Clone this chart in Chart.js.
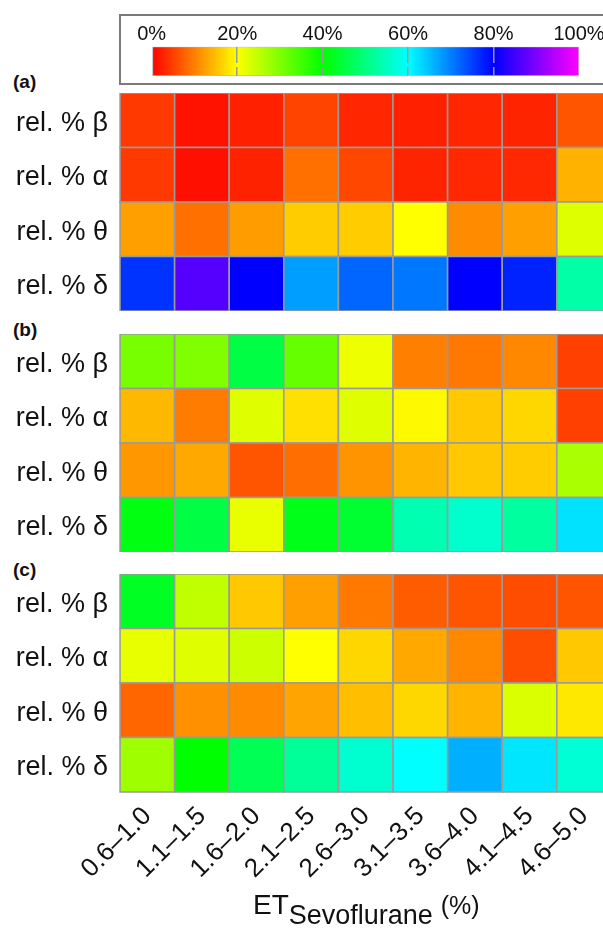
<!DOCTYPE html>
<html>
<head>
<meta charset="utf-8">
<script src="https://cdn.jsdelivr.net/npm/chart.js@4.4.0/dist/chart.umd.min.js"></script>
<style>
    html, body { margin: 0; padding: 0; background: #fff; overflow: hidden; width: 603px; height: 930px; }
    body { position: relative; font-family: "Liberation Sans", Arial, sans-serif; color: #111; }
    canvas { position: absolute; }
    #cbBox { position: absolute; left: 119px; top: 14px; width: 540px; height: 67px; border: 2px solid #7b7b7b; }
    .tag { position: absolute; left: 13px; font-weight: bold; font-size: 19px; line-height: 20px; }
    #xTitle { position: absolute; left: 253px; top: 889px; font-size: 28px; line-height: 32px; white-space: nowrap; }
    #xTitle .sub { position: relative; top: 10px; font-size: 27px; }
    #xTitle .pct { font-size: 25px; }
</style>
</head>
<body>
<div id="cbBox"></div>
<canvas id="colorbar" width="520" height="60" style="left:120px; top:20px;"></canvas>

<div class="tag" style="top:72px;">(a)</div>
<canvas id="panelA" width="700" height="218" style="left:0; top:93px;"></canvas>

<div class="tag" style="top:320px;">(b)</div>
<canvas id="panelB" width="700" height="218" style="left:0; top:334px;"></canvas>

<div class="tag" style="top:560px;">(c)</div>
<canvas id="panelC" width="700" height="328" style="left:0; top:574px;"></canvas>

<div id="xTitle">ET<span class="sub">Sevoflurane</span> <span class="pct">(%)</span></div>

<script>
    // categories
    const columns = ["0.6–1.0", "1.1–1.5", "1.6–2.0", "2.1–2.5", "2.6–3.0", "3.1–3.5", "3.6–4.0", "4.1–4.5", "4.6–5.0"];
    const rows = ["rel. % β", "rel. % α", "rel. % θ", "rel. % δ"];
    const cbTicks = [0, 20, 40, 60, 80, 100];
    const cbRange = [0, 100];

    // (a) values in %
    const aBeta  = [4.5, 1.5, 2.5, 5.3, 3.0, 2.5, 3.0, 2.8, 6.7];
    const aAlpha = [4.5, 1.2, 2.7, 8.8, 5.6, 2.8, 3.1, 3.1, 14.0];
    const aTheta = [12.5, 8.8, 12.2, 16.0, 16.0, 20.0, 11.0, 12.5, 22.7];
    const aDelta = [76.0, 86.7, 80.0, 67.5, 72.0, 70.7, 80.0, 77.3, 53.0];

    // (b)
    const bBeta  = [30.7, 30.0, 45.3, 32.0, 21.3, 10.0, 9.4, 10.7, 5.0];
    const bAlpha = [14.4, 9.7, 22.5, 17.6, 22.5, 19.5, 15.7, 16.9, 5.0];
    const bTheta = [11.9, 13.2, 6.7, 8.6, 11.6, 14.1, 15.7, 16.0, 26.7];
    const bDelta = [41.3, 45.3, 21.7, 42.0, 43.8, 53.8, 56.0, 52.5, 62.3];

    // (c)
    const cBeta  = [42.7, 25.0, 15.7, 12.5, 9.4, 7.2, 6.7, 6.0, 6.7];
    const cAlpha = [21.8, 22.5, 24.0, 20.0, 16.9, 13.2, 10.7, 6.0, 15.7];
    const cTheta = [8.0, 11.3, 11.0, 12.9, 15.0, 16.9, 14.1, 23.0, 18.2];
    const cDelta = [27.5, 40.0, 46.7, 52.0, 56.3, 60.0, 66.2, 62.0, 56.7];

    const FONT = '"Liberation Sans", Arial, sans-serif';

    // 0% red -> 20% yellow -> 40% green -> 60% cyan -> 80% blue -> 100% magenta
    function valueToColor(v) {
        return `hsl(${(v / 100) * 300}, 100%, 50%)`;
    }

    function cellSize(chart) {
        const a = chart.chartArea;
        if (!a) return 0;
        return Math.min(a.width / columns.length, a.height / rows.length);
    }

    // colorbar
    new Chart(document.getElementById("colorbar"), {
        type: "bar",
        data: {
            labels: [""],
            datasets: [{
                data: [cbRange],
                backgroundColor: c => {
                    const a = c.chart.chartArea;
                    if (!a) return "#f00";
                    const g = c.chart.ctx.createLinearGradient(a.left, 0, a.right, 0);
                    cbTicks.forEach(t => g.addColorStop((t - cbRange[0]) / (cbRange[1] - cbRange[0]), valueToColor(t)));
                    return g;
                },
                borderColor: "#bdbdbd",
                borderWidth: 1,
                borderSkipped: false,
                barPercentage: 1,
                categoryPercentage: 1
            }]
        },
        options: {
            indexAxis: "y",
            responsive: false,
            animation: false,
            events: [],
            layout: { padding: { left: 31.7, right: 61, top: 0, bottom: 4 } },
            plugins: { legend: { display: false }, tooltip: { enabled: false } },
            scales: {
                x: {
                    position: "top",
                    min: cbRange[0],
                    max: cbRange[1],
                    afterBuildTicks: s => { s.ticks = cbTicks.map(v => ({ value: v })); },
                    afterFit: s => { s.height = 26.7; },
                    grid: {
                        drawTicks: false,
                        lineWidth: 1.5,
                        z: 1,
                        color: c => (c.tick && c.tick.value > cbRange[0] && c.tick.value < cbRange[1]) ? "#9a9a9a" : "rgba(0,0,0,0)"
                    },
                    border: { display: false, dash: [16, 4] },
                    ticks: { padding: 0, color: "#111", font: { family: FONT, size: 20 }, callback: v => v + "%" }
                },
                y: { display: false }
            }
        }
    });

    function makePanel(id, rowValues, showX) {
        const points = [];
        rowValues.forEach((vals, r) => {
            vals.forEach((v, c) => points.push({ x: columns[c], y: rows[r], v: v }));
        });
        return new Chart(document.getElementById(id), {
            type: "scatter",
            data: {
                datasets: [{
                    data: points,
                    pointStyle: "rect",
                    pointRadius: ctx => cellSize(ctx.chart) / Math.SQRT2,
                    pointBackgroundColor: ctx => ctx.raw ? valueToColor(ctx.raw.v) : "#fff",
                    pointBorderColor: "#9a9a9a",
                    pointBorderWidth: 1.5
                }]
            },
            options: {
                responsive: false,
                animation: false,
                events: [],
                layout: { padding: { left: 0, right: 88.6, top: 0, bottom: 0 } },
                plugins: { legend: { display: false }, tooltip: { enabled: false } },
                scales: {
                    x: {
                        type: "category",
                        labels: columns,
                        offset: true,
                        display: showX,
                        grid: { display: false, drawTicks: false },
                        border: { display: false },
                        ticks: {
                            autoSkip: false,
                            minRotation: 45,
                            maxRotation: 45,
                            padding: 9,
                            color: "#111",
                            font: { family: FONT, size: 26 }
                        },
                        afterFit: s => {
                            s.height = showX ? 110 : 0;
                            s.paddingLeft = 0;
                            s.paddingRight = 0;
                        }
                    },
                    y: {
                        type: "category",
                        labels: rows,
                        offset: true,
                        grid: { display: false, drawTicks: false },
                        border: { display: false },
                        ticks: { autoSkip: false, padding: 12, labelOffset: 3, color: "#111", font: { family: FONT, size: 27 } },
                        afterFit: s => {
                            s.width = 120;
                            s.paddingTop = 0;
                            s.paddingBottom = 0;
                        }
                    }
                }
            }
        });
    }

    makePanel("panelA", [aBeta, aAlpha, aTheta, aDelta], false);
    makePanel("panelB", [bBeta, bAlpha, bTheta, bDelta], false);
    makePanel("panelC", [cBeta, cAlpha, cTheta, cDelta], true);
</script>
</body>
</html>
